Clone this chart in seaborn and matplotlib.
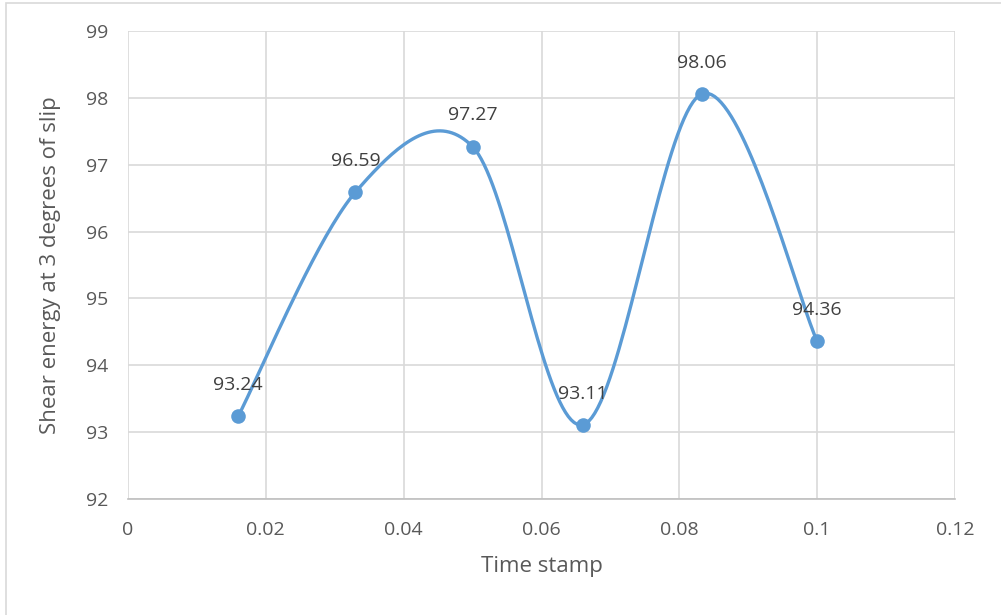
import numpy as np
import pandas as pd
import matplotlib
matplotlib.use("Agg")
import matplotlib.pyplot as plt
from matplotlib.patches import Rectangle
import seaborn as sns

time_stamp = [0.016, 0.033, 0.05, 0.066, 0.0833, 0.1]
shear_energy = [93.24, 96.59, 97.27, 93.11, 98.06, 94.36]
x_ticks = [0, 0.02, 0.04, 0.06, 0.08, 0.1, 0.12]
x_tick_labels = ["0", "0.02", "0.04", "0.06", "0.08", "0.1", "0.12"]
y_ticks = [92, 93, 94, 95, 96, 97, 98, 99]
x_title = "Time stamp"
y_title = "Shear energy at 3 degrees of slip"

sns.set_theme(style="white")
plt.rcParams["font.family"] = ["Open Sans", "DejaVu Sans"]

LINE = "#5B9BD5"
GRID = "#D9D9D9"
TXT = "#595959"

def catmull_rom(xs, ys, n=40):
    P = np.column_stack([xs, ys]).astype(float)
    P = np.vstack([P[0], P, P[-1]])
    out = []
    for i in range(1, len(P) - 2):
        p0, p1, p2, p3 = P[i - 1], P[i], P[i + 1], P[i + 2]
        c1 = p1 + (p2 - p0) / 6.0
        c2 = p2 - (p3 - p1) / 6.0
        t = np.linspace(0, 1, n)[:, None]
        seg = ((1 - t) ** 3) * p1 + 3 * ((1 - t) ** 2) * t * c1 + 3 * (1 - t) * t ** 2 * c2 + t ** 3 * p2
        out.append(seg if i == 1 else seg[1:])
    return np.vstack(out)

curve = catmull_rom(time_stamp, shear_energy)
df_curve = pd.DataFrame({"x": curve[:, 0], "y": curve[:, 1]})
df_pts = pd.DataFrame({"x": time_stamp, "y": shear_energy})

fig = plt.figure(figsize=(10.01, 6.15), dpi=100)
ax = fig.add_axes([128 / 1001, 1 - 499 / 615, (955 - 128) / 1001, (499 - 31) / 615])

sns.lineplot(data=df_curve, x="x", y="y", sort=False, ax=ax, color=LINE, linewidth=2.4, zorder=3)
sns.scatterplot(data=df_pts, x="x", y="y", ax=ax, color=LINE, s=110, edgecolor=LINE, linewidth=0, zorder=4)

for xv, yv in zip(time_stamp, shear_energy):
    ax.annotate(f"{yv:.2f}", (xv, yv), xytext=(0, 16), textcoords="offset points",
                ha="center", va="bottom", fontsize=14, color="#404040", zorder=5)

ax.set_xlim(0, 0.12)
ax.set_ylim(92, 99)
ax.set_xticks(x_ticks)
ax.set_xticklabels(x_tick_labels)
ax.set_yticks(y_ticks)
ax.set_yticklabels([str(v) for v in y_ticks])
ax.grid(True, color=GRID, linewidth=1.2)
ax.set_axisbelow(True)
for s in ["top", "right", "left"]:
    ax.spines[s].set_visible(False)
ax.spines["bottom"].set_color("#BFBFBF")
ax.spines["bottom"].set_linewidth(1.2)
ax.tick_params(axis="both", length=0, labelsize=14, colors=TXT)
ax.tick_params(axis="y", pad=14)
ax.tick_params(axis="x", pad=16)
ax.set_xlabel(x_title, fontsize=16, color=TXT, labelpad=12)
ax.set_ylabel(y_title, fontsize=16, color=TXT, labelpad=18)

fig.patches.append(Rectangle((5.5 / 1001, -0.1), 1.2, 1 - 2.5 / 615 + 0.1, transform=fig.transFigure,
                             fill=False, edgecolor="#D9D9D9", linewidth=1.2, zorder=0))

fig.savefig("out.png", dpi=100)
